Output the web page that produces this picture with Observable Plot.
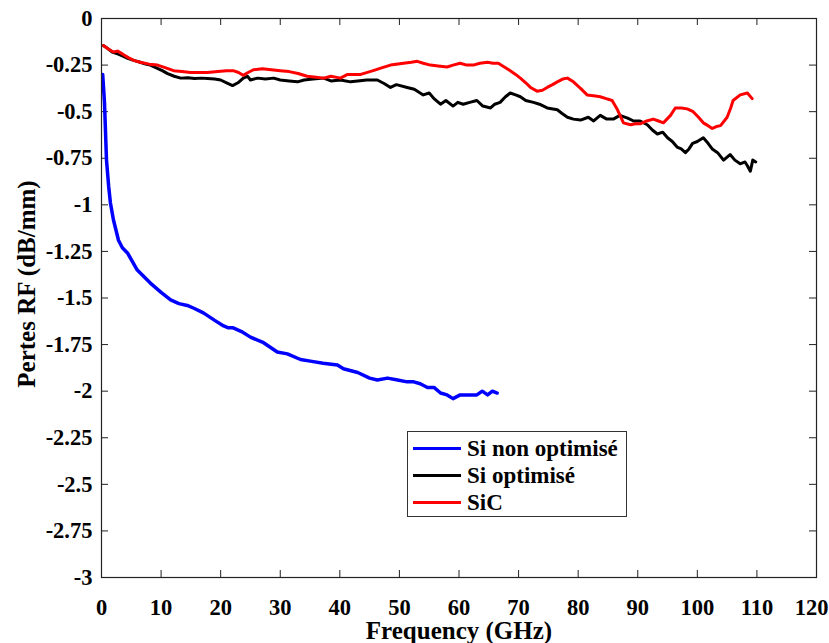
<!DOCTYPE html>
<html>
<head>
<meta charset="utf-8">
<script src="https://cdn.jsdelivr.net/npm/d3@7"></script>
<script src="https://cdn.jsdelivr.net/npm/@observablehq/plot@0.6"></script>
<style>
  html, body { margin: 0; padding: 0; background: #fff; }
  #wrap { position: relative; width: 829px; height: 643px; }
  #wrap svg, #wrap svg text { font-family: "Liberation Serif", "Times New Roman", Times, "DejaVu Serif", serif !important; font-weight: bold; }
  #legend {
    position: absolute; left: 407px; top: 431px; width: 220px; height: 86px;
    border: 1px solid #333; background: #fff; box-sizing: border-box;
    font-family: "Liberation Serif", "Times New Roman", Times, "DejaVu Serif", serif; font-weight: bold; font-size: 23px;
  }
  .row { position: absolute; left: 5px; height: 27px; display: flex; align-items: center; }
  .sw { width: 48px; height: 3px; margin-right: 6px; }
  .lbl { line-height: 27px; white-space: nowrap; }
</style>
</head>
<body>
<div id="wrap"></div>
<script>
// Series names
const seriesNames = ["Si non optimisé", "Si optimisé", "SiC"];
const seriesColors = ["#0000ff", "#000000", "#ff0000"];

// Si non optimisé: [frequency GHz, loss dB/mm]
const siNonOpt = [
  [0.2,-0.30],[0.5,-0.45],[0.84,-0.76],[1.2,-0.90],[1.5,-0.99],[2.0,-1.08],[2.85,-1.19],[3.5,-1.23],
  [4.4,-1.26],[6.0,-1.35],[8.2,-1.42],[10,-1.47],[11.6,-1.51],[13,-1.53],[14.4,-1.54],[15.5,-1.555],
  [17.1,-1.58],[19,-1.62],[20.5,-1.65],[21.3,-1.66],[22.1,-1.66],[23.5,-1.68],[25,-1.71],[27.2,-1.74],
  [29.5,-1.79],[31.2,-1.80],[33.4,-1.83],[35.3,-1.84],[37.2,-1.85],[39.6,-1.86],[40.6,-1.88],[43,-1.90],
  [45,-1.93],[46.3,-1.94],[48,-1.93],[49.7,-1.94],[51.3,-1.95],[52.4,-1.95],[53.5,-1.96],[54.7,-1.98],
  [55.8,-1.98],[56.9,-2.01],[58,-2.02],[59,-2.04],[60.2,-2.02],[61.9,-2.02],[63,-2.02],[63.9,-2.00],
  [64.8,-2.02],[65.6,-2.00],[66.4,-2.01]
];

// Si optimisé
const siOpt = [
  [0.3,-0.145],[1.0,-0.16],[1.8,-0.18],[2.7,-0.19],[3.5,-0.20],[4.5,-0.215],[5.4,-0.225],[6.5,-0.235],
  [7.4,-0.245],[8.2,-0.25],[9.2,-0.265],[10.2,-0.28],[11.1,-0.296],[12.2,-0.31],[13.3,-0.32],[14.5,-0.318],
  [15.6,-0.322],[16.8,-0.32],[17.8,-0.322],[19.0,-0.325],[20.0,-0.33],[21.0,-0.345],[22.0,-0.36],[22.9,-0.345],
  [23.8,-0.32],[24.5,-0.31],[25.0,-0.33],[26.2,-0.32],[27.5,-0.325],[28.9,-0.32],[30.0,-0.33],[31.5,-0.335],
  [32.9,-0.34],[34.0,-0.33],[35.5,-0.325],[37.3,-0.32],[38.5,-0.335],[40.1,-0.33],[41.8,-0.34],[43.0,-0.335],
  [44.5,-0.33],[46.3,-0.33],[47.5,-0.35],[48.5,-0.37],[49.5,-0.355],[51.3,-0.37],[52.5,-0.38],[54.0,-0.41],
  [55.0,-0.40],[55.8,-0.43],[56.9,-0.46],[57.8,-0.44],[59.0,-0.47],[59.8,-0.45],[60.7,-0.46],[61.8,-0.45],
  [63.0,-0.44],[64.0,-0.47],[65.3,-0.48],[66.0,-0.46],[66.9,-0.45],[67.8,-0.42],[68.6,-0.40],[69.5,-0.41],
  [70.3,-0.42],[71.2,-0.44],[72.5,-0.45],[73.5,-0.46],[74.8,-0.48],[76.5,-0.49],[77.3,-0.51],[78.2,-0.53],
  [79.2,-0.54],[80.4,-0.545],[81.7,-0.53],[82.6,-0.55],[83.7,-0.52],[84.8,-0.54],[85.9,-0.54],[87.0,-0.52],
  [88.3,-0.535],[89.3,-0.55],[90.4,-0.55],[91.6,-0.57],[92.5,-0.60],[93.3,-0.62],[94.2,-0.61],[95.0,-0.64],
  [95.8,-0.66],[96.6,-0.69],[97.3,-0.70],[98.0,-0.72],[98.6,-0.70],[99.2,-0.67],[100.0,-0.66],[101.0,-0.64],
  [101.8,-0.67],[102.5,-0.70],[103.4,-0.72],[104.4,-0.76],[105.5,-0.73],[106.3,-0.76],[107.2,-0.78],[108.0,-0.77],
  [108.4,-0.79],[108.9,-0.82],[109.3,-0.76],[109.8,-0.77]
];

// SiC
const siC = [
  [0.3,-0.145],[1.2,-0.165],[2.0,-0.18],[2.7,-0.175],[3.5,-0.19],[4.5,-0.21],[5.4,-0.225],[6.5,-0.235],
  [8.0,-0.245],[9.4,-0.25],[10.8,-0.265],[12.1,-0.28],[13.5,-0.285],[14.9,-0.29],[16.3,-0.29],[17.8,-0.29],
  [19.5,-0.285],[21.0,-0.28],[22.1,-0.28],[23.0,-0.29],[23.8,-0.305],[24.6,-0.29],[25.5,-0.275],[27.0,-0.27],
  [28.5,-0.275],[30.0,-0.28],[31.5,-0.285],[33.0,-0.295],[34.5,-0.31],[36.0,-0.315],[37.3,-0.32],[38.5,-0.31],
  [40.1,-0.32],[41.3,-0.30],[43.5,-0.30],[45.6,-0.28],[47.0,-0.265],[48.5,-0.25],[50.7,-0.24],[52.0,-0.235],
  [53.0,-0.23],[54.0,-0.24],[55.2,-0.25],[56.5,-0.255],[58.0,-0.26],[59.0,-0.25],[60.2,-0.24],[61.3,-0.25],
  [62.4,-0.25],[63.5,-0.24],[64.8,-0.235],[65.7,-0.24],[66.6,-0.24],[67.6,-0.26],[68.6,-0.28],[69.5,-0.30],
  [70.3,-0.32],[71.2,-0.345],[72.0,-0.37],[73.1,-0.39],[74.0,-0.385],[74.8,-0.37],[75.7,-0.355],[76.5,-0.34],
  [77.4,-0.325],[78.2,-0.32],[79.2,-0.34],[80.4,-0.375],[81.5,-0.41],[82.6,-0.415],[83.7,-0.42],[84.7,-0.43],
  [85.7,-0.44],[86.6,-0.49],[87.6,-0.56],[88.8,-0.57],[89.6,-0.565],[90.4,-0.565],[91.5,-0.55],[92.6,-0.54],
  [93.5,-0.55],[94.3,-0.56],[95.5,-0.52],[96.3,-0.48],[97.3,-0.48],[98.3,-0.485],[99.3,-0.50],[100.2,-0.53],
  [101.0,-0.56],[101.8,-0.575],[102.5,-0.59],[103.2,-0.58],[103.9,-0.575],[105.0,-0.53],[105.6,-0.48],[106.0,-0.44],
  [107.2,-0.41],[108.4,-0.40],[109.2,-0.43]
];

// Tick values
const xTicks = [0,10,20,30,40,50,60,70,80,90,100,110,120];
const yTicks = [0,-0.25,-0.5,-0.75,-1,-1.25,-1.5,-1.75,-2,-2.25,-2.5,-2.75,-3];

const xLabel = "Frequency (GHz)";
const yLabel = "Pertes RF (dB/mm)";

const allSeries = [siNonOpt, siOpt, siC];
const rows = [];
allSeries.forEach((s, i) => s.forEach(([f, v]) => rows.push({f, v, series: seriesNames[i]})));

const W = 829, H = 643;
const mL = 101, mR = 13, mT = 18, mB = 66;
const tickLen = 7;
const xPerPx = 120 / (W - mL - mR);
const yPerPx = 3 / (H - mT - mB);
const tickFs = 22.5;

const xInner = xTicks.slice(0, -1);
const xLast = xTicks.slice(-1);

const chart = Plot.plot({
  width: W, height: H,
  marginLeft: mL, marginRight: mR, marginTop: mT, marginBottom: mB,
  style: { background: "#fff", color: "#000" },
  x: { domain: [0, 120] },
  y: { domain: [-3, 0] },
  color: { domain: seriesNames, range: seriesColors },
  marks: [
    Plot.axisX(xInner, { tickSize: 0, tickPadding: 22, fontSize: tickFs, label: null, tickFormat: d => String(d) }),
    Plot.text(xLast, { x: d => d, y: d => -3, dy: 22, dx: -5, lineAnchor: "top", fontSize: tickFs, text: d => String(d) }),
    Plot.axisY(yTicks, { tickSize: 0, tickPadding: 9, fontSize: tickFs, label: null, tickFormat: d => String(d) }),
    Plot.ruleX(xTicks, { x: d => d, y1: -3, y2: -3 + tickLen * yPerPx, stroke: "#222", strokeWidth: 1 }),
    Plot.ruleX(xTicks, { x: d => d, y1: 0, y2: -tickLen * yPerPx, stroke: "#222", strokeWidth: 1 }),
    Plot.ruleY(yTicks, { y: d => d, x1: 0, x2: tickLen * xPerPx, stroke: "#222", strokeWidth: 1 }),
    Plot.ruleY(yTicks, { y: d => d, x1: 120, x2: 120 - tickLen * xPerPx, stroke: "#222", strokeWidth: 1 }),
    Plot.line(rows, { x: "f", y: "v", z: "series", stroke: "series",
      strokeWidth: d => d.series === seriesNames[0] ? 3.5 : 3, strokeLinejoin: "round", strokeLinecap: "round" }),
    Plot.frame({ stroke: "#222", strokeWidth: 1.2 }),
    Plot.text([xLabel], { frameAnchor: "bottom", dy: 53, lineAnchor: "middle", textAnchor: "middle", fontSize: 25, fontWeight: "bold", text: d => d }),
    Plot.text([yLabel], { frameAnchor: "left", dx: -75, dy: -14, rotate: -90, lineAnchor: "middle", textAnchor: "middle", fontSize: 25, fontWeight: "bold", text: d => d })
  ]
});

const wrap = document.getElementById("wrap");
wrap.appendChild(chart);

// Legend (inside the plot area)
const legend = document.createElement("div");
legend.id = "legend";
seriesNames.forEach((name, i) => {
  const row = document.createElement("div");
  row.className = "row";
  row.style.top = (3 + i * 27) + "px";
  const sw = document.createElement("div");
  sw.className = "sw";
  sw.style.background = seriesColors[i];
  const lbl = document.createElement("span");
  lbl.className = "lbl";
  lbl.textContent = name;
  row.appendChild(sw);
  row.appendChild(lbl);
  legend.appendChild(row);
});
wrap.appendChild(legend);
</script>
</body>
</html>
